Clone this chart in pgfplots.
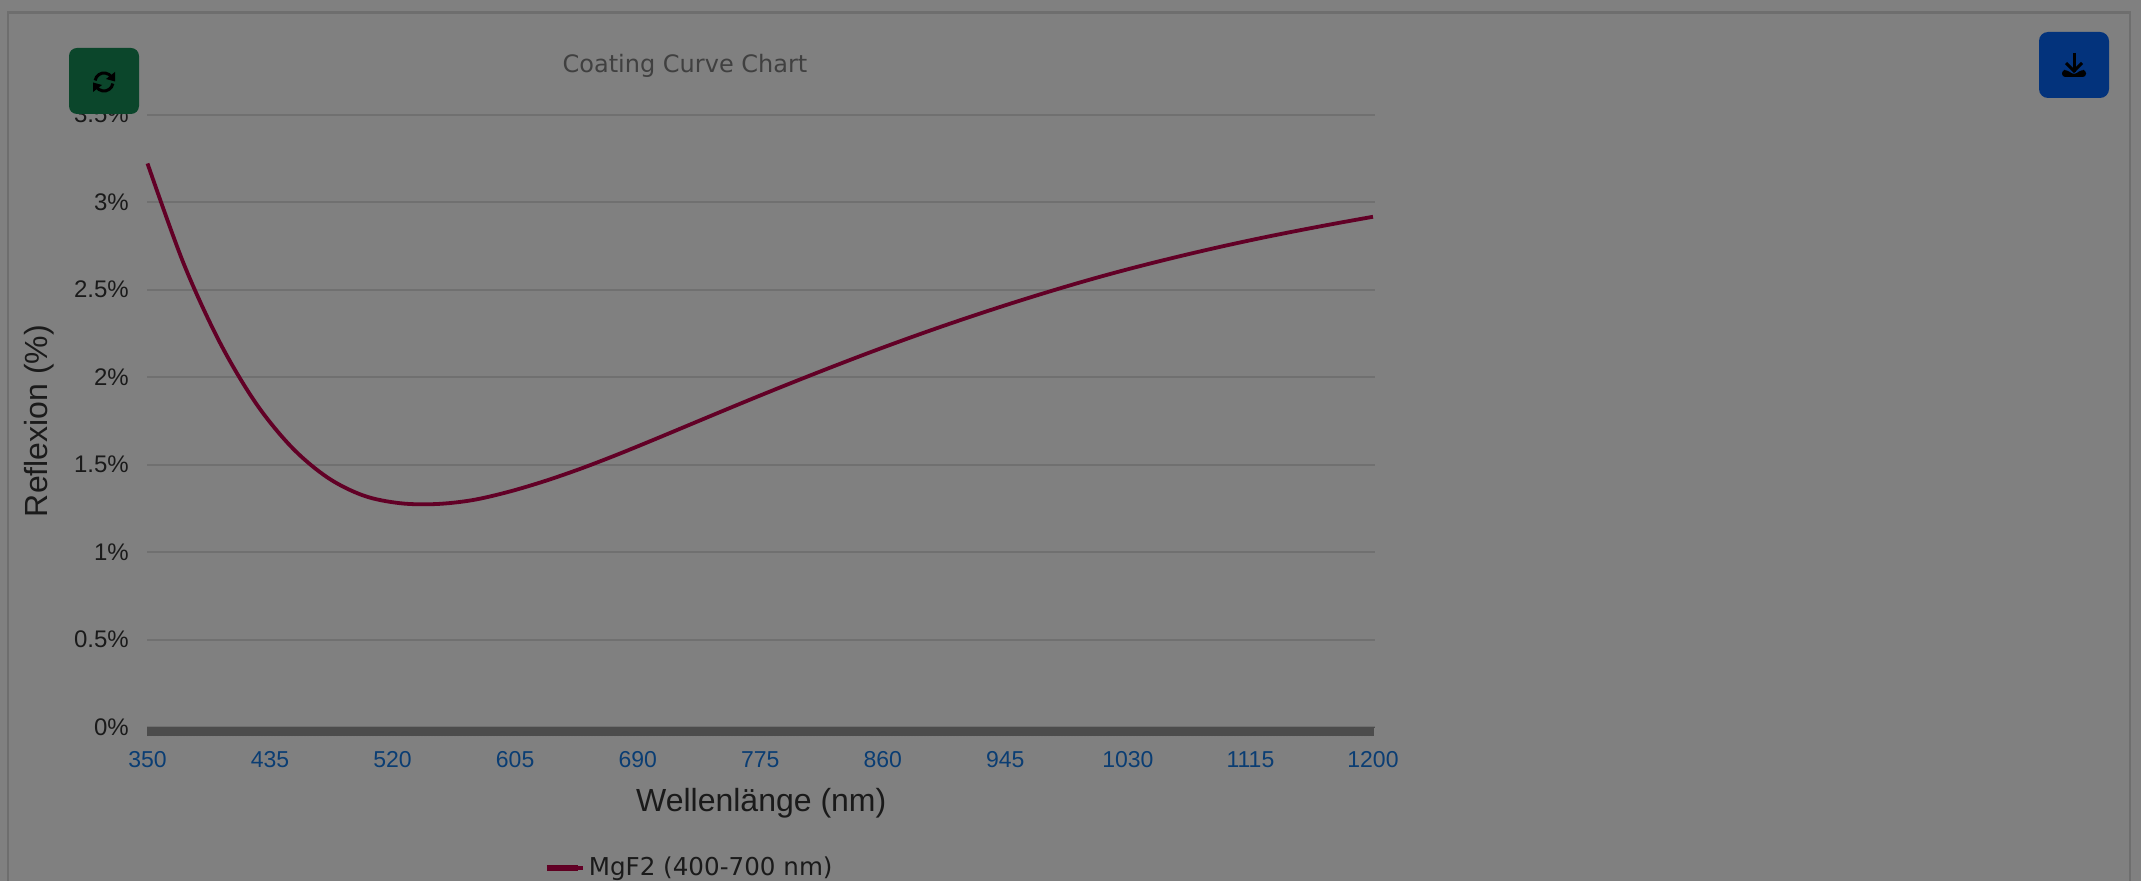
\documentclass[border=0pt]{standalone}
\usepackage{fontspec}
\setmainfont{Liberation Sans}
\newfontfamily\dejavu{DejaVu Sans}
\usepackage{pgfplots}
\pgfplotsset{compat=1.18}
\definecolor{bgc}{HTML}{808080}
\definecolor{framec}{HTML}{6E6E6E}
\definecolor{gridc}{HTML}{707070}
\definecolor{bandc}{HTML}{4C4C4C}
\definecolor{linec}{HTML}{620026}
\definecolor{legc}{HTML}{5E0020}
\definecolor{xtickc}{HTML}{0A3D73}
\definecolor{darkc}{HTML}{1A1A1A}
\definecolor{titlec}{HTML}{404040}
\definecolor{greenb}{HTML}{0B462B}
\definecolor{blueb}{HTML}{03337C}
\begin{document}
\begin{tikzpicture}
\path[use as bounding box] (0pt,0pt) rectangle (1070.5pt,-440.5pt);
\clip (0pt,0pt) rectangle (1070.5pt,-440.5pt);
\fill[bgc] (0pt,0pt) rectangle (1070.5pt,-440.5pt);
\begin{scope}[x=0.5pt,y=-0.5pt]
\draw[framec,line width=1.2pt] (8,900) -- (8,12.5) -- (2130,12.5) -- (2130,900);
\end{scope}
\begin{axis}[
  at={(73.75pt,-363.5pt)}, anchor=south west,
  scale only axis, width=613.75pt, height=306pt,
  xmin=350, xmax=1201.4, ymin=0, ymax=3.5,
  clip=false,
  axis x line*=bottom, axis y line*=left,
  tick align=outside,
  y axis line style={draw=none},
  x axis line style={bandc,line width=0.5pt,-},
  ytick={0,0.5,1,1.5,2,2.5,3,3.5},
  yticklabels={0\%,0.5\%,1\%,1.5\%,2\%,2.5\%,3\%,3.5\%},
  xtick={350,435,520,605,690,775,860,945,1030,1115,1200},
  xticklabels={350,435,520,605,690,775,860,945,1030,1115,1200},
  minor x tick num=84,
  major tick length=4.5pt, minor tick length=4.5pt,
  ytick style={draw=none},
  every x tick/.style={bandc,line width=0.74pt},
  every minor x tick/.style={bandc,line width=0.74pt},
  ymajorgrids, grid style={gridc,line width=1pt},
  typeset ticklabels with strut,
  x tick label style={font=\fontsize{11.5}{13}\selectfont,xtickc,yshift=-3pt},
  y tick label style={font=\fontsize{12}{13}\selectfont,darkc,xshift=-1.3pt,yshift=-1.4pt},
  xlabel={Wellenlänge (nm)},
  ylabel={Reflexion (\%)},
  label style={font=\fontsize{16}{18}\selectfont,color=darkc},
  xlabel style={at={(axis description cs:0.5,-0.1373)},anchor=base},
  ylabel style={at={(axis description cs:-0.0885,0.5)},anchor=center},
  legend style={at={(axis description cs:0.442,-0.2304)},anchor=center,draw=none,fill=none,
    font=\dejavu\fontsize{12.3}{14}\selectfont,text=darkc,inner sep=0pt},
  legend image code/.code={\draw[legc,line width=3.4pt] (0pt,0pt) -- (15.5pt,0pt);\path (0pt,0pt) -- (18pt,0pt);},
]
\addplot[linec,line width=1.9pt,smooth,tension=0.55] coordinates {
(350,3.223)(375,2.652)(400,2.202)(425,1.854)(450,1.600)(475,1.426)(500,1.323)
(525,1.280)(550,1.275)(575,1.297)(600,1.344)(625,1.405)(650,1.476)(675,1.555)
(700,1.639)(725,1.725)(750,1.811)(775,1.896)(800,1.979)(825,2.060)(850,2.139)
(875,2.215)(900,2.288)(925,2.358)(950,2.425)(975,2.489)(1000,2.550)(1025,2.607)
(1050,2.660)(1075,2.710)(1100,2.757)(1125,2.801)(1150,2.842)(1175,2.881)(1200,2.918)};
\addlegendentry{MgF2 (400-700 nm)}
\end{axis}
\begin{scope}[x=0.5pt,y=-0.5pt]
\fill[greenb,rounded corners=4pt] (69,48) rectangle (139,114);
\fill[blueb,rounded corners=4.5pt] (2039,32) rectangle (2109,98);
\node[anchor=center,text=titlec,font=\dejavu\fontsize{12}{14}\selectfont] at (685,65.5) {Coating Curve Chart};
% download icon
\draw[black,line width=1.5pt] (2074,53) -- (2074,72);
\draw[black,line width=1.5pt] (2066,63) -- (2074,71) -- (2082,63);
\fill[black,rounded corners=1.6pt] (2062,70) -- (2067,70) -- (2074,75) -- (2081,70) -- (2086,70) -- (2086,77) -- (2062,77) -- cycle;
\end{scope}
\begin{scope}[shift={(52pt,-41pt)},x=0.5pt,y=0.5pt]
\draw[black,line width=1.5pt] (170:9) arc (170:35:9);
\fill[black] (11,10) -- (11,0.5) -- (2,3) -- cycle;
\draw[black,line width=1.5pt] (-10:9) arc (-10:-145:9);
\fill[black] (-11,-10) -- (-11,-0.5) -- (-2,-3) -- cycle;
\end{scope}
\end{tikzpicture}
\end{document}
